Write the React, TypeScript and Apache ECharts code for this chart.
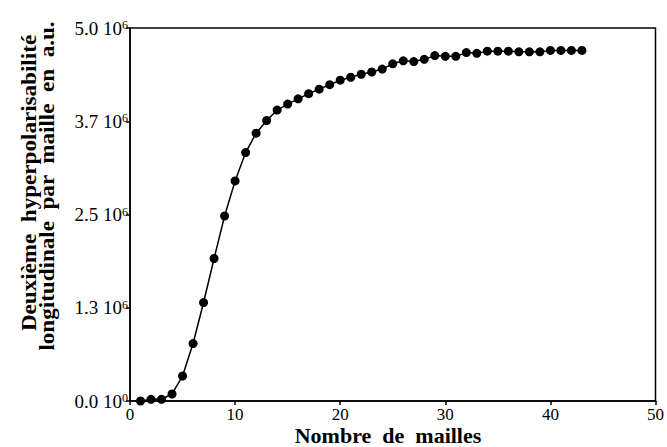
import React, { useEffect, useRef } from "react";
import * as echarts from "echarts";

const xValues = [1,2,3,4,5,6,7,8,9,10,11,12,13,14,15,16,17,18,19,20,21,22,23,24,25,26,27,28,29,30,31,32,33,34,35,36,37,38,39,40,41,42,43];
const yValues = [0.0,0.023,0.023,0.094,0.335,0.77,1.32,1.91,2.48,2.95,3.33,3.59,3.76,3.9,3.98,4.05,4.12,4.18,4.24,4.3,4.34,4.38,4.41,4.45,4.52,4.56,4.55,4.58,4.63,4.62,4.62,4.67,4.66,4.69,4.69,4.69,4.68,4.68,4.68,4.7,4.7,4.7,4.7];
const yTickMantissa = ["0.0", "1.3", "2.5", "3.7", "5.0"];
const yTickExponent = ["0", "6", "6", "6", "6"];
const xTitle = "Nombre  de  mailles";
const yTitle1 = "Deuxième  hyperpolarisabilité";
const yTitle2 = "longitudinale  par  maille  en  a.u.";

const FONT = "'Liberation Serif', 'DejaVu Serif', serif";

export default function App() {
  const ref = useRef<HTMLDivElement>(null);
  useEffect(() => {
    if (!ref.current) return;
    const chart = echarts.init(ref.current, null, { renderer: "svg" });
    const data = xValues.map((x, i) => [x, yValues[i] * 1e6]);
    chart.setOption({
      animation: false,
      backgroundColor: "#ffffff",
      grid: {
        left: 130, right: 10, top: 28, bottom: 46,
        show: true, borderColor: "#000", borderWidth: 1.5, backgroundColor: "transparent",
      },
      xAxis: {
        type: "value", min: 0, max: 50, interval: 10,
        axisLine: { lineStyle: { color: "#000", width: 1.5 } },
        axisTick: { show: true, length: 4, lineStyle: { color: "#000", width: 1.5 } },
        splitLine: { show: false },
        axisLabel: { color: "#000", fontFamily: FONT, fontSize: 17, margin: 5 },
      },
      yAxis: {
        type: "value", min: 0, max: 5e6, interval: 1.25e6,
        axisLine: { lineStyle: { color: "#000", width: 1.5 } },
        axisTick: { show: true, length: 4, lineStyle: { color: "#000", width: 1.5 } },
        splitLine: { show: false },
        axisLabel: {
          margin: 2,
          formatter: (v: number) => {
            const i = Math.round(v / 1.25e6);
            return `{a|${yTickMantissa[i]} 10}{s|${yTickExponent[i]}}`;
          },
          rich: {
            a: { color: "#000", fontFamily: FONT, fontSize: 19, lineHeight: 20 },
            s: { color: "#000", fontFamily: FONT, fontSize: 12, lineHeight: 20, padding: [0, 0, 6, 0] },
          },
        },
      },
      graphic: [
        {
          type: "text", x: 388, y: 435,
          style: { text: xTitle, fill: "#000", font: `bold 22px ${FONT}`, textAlign: "center", textVerticalAlign: "middle" },
        },
        {
          type: "text", x: 29, y: 183, rotation: Math.PI / 2, scaleX: 1.1,
          style: { text: yTitle1, fill: "#000", font: `bold 21px ${FONT}`, textAlign: "center", textVerticalAlign: "middle" },
        },
        {
          type: "text", x: 47, y: 186, rotation: Math.PI / 2, scaleX: 1.1,
          style: { text: yTitle2, fill: "#000", font: `bold 21px ${FONT}`, textAlign: "center", textVerticalAlign: "middle" },
        },
      ],
      series: [
        {
          type: "line", data,
          lineStyle: { color: "#000", width: 1.5 },
          itemStyle: { color: "#000" },
          symbol: "circle", symbolSize: 9, showSymbol: true,
        },
      ],
    });
    return () => chart.dispose();
  }, []);
  return <div ref={ref} style={{ width: 667, height: 447, position: "absolute", left: 0, top: 0 }} />;
}
